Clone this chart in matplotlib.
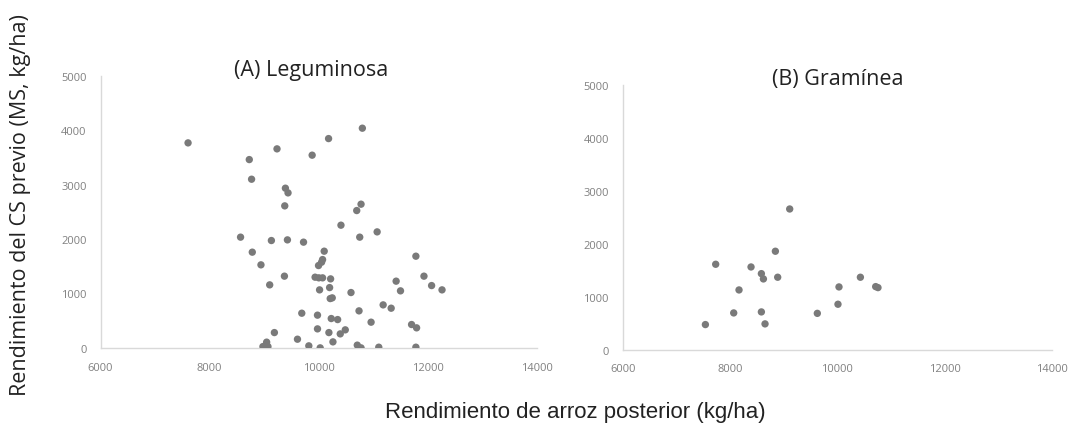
import matplotlib
matplotlib.use("Agg")
import matplotlib.pyplot as plt

plt.rcParams["font.family"] = ["Open Sans", "DejaVu Sans"]

# panel A: leguminosa (rice yield, cover crop yield)
leg_x = [7603, 8725, 8767, 9233, 9387, 9435, 9375, 10797, 10178, 9877,
         10773, 10694, 8565, 9130, 9424, 9719, 8780, 8939, 9369, 9099,
         9687, 9185, 9608, 8975, 9043, 9067, 10405, 11068, 10749, 10098,
         10068, 10050, 9994, 11778, 9931, 9999, 10068, 10215, 11416, 11926,
         12066, 12257, 11496, 10013, 10197, 10589, 10208, 10245, 10736, 11178,
         11325, 9975, 10227, 10344, 10957, 11699, 11791, 9975, 10184, 10484,
         10392, 10258, 9816, 10024, 10704, 10773, 11098, 11778]
leg_y = [3768, 3461, 3100, 3658, 2935, 2849, 2610, 4038, 3847, 3542,
         2641, 2524, 2035, 1973, 1985, 1943, 1759, 1526, 1318, 1158,
         637, 281, 159, 24, 105, 24, 2255, 2132, 2035, 1777,
         1623, 1575, 1513, 1685, 1299, 1287, 1287, 1268, 1226, 1318,
         1145, 1066, 1048, 1066, 1108, 1017, 906, 919, 680, 790,
         729, 601, 539, 520, 472, 429, 368, 349, 281, 331,
         257, 110, 37, 0, 50, 0, 12, 12]

# panel B: graminea
gra_x = [9113, 8846, 7733, 8392, 8585, 8623, 8889, 8168, 8069, 8585,
         8653, 7541, 9628, 10013, 10032, 10431, 10716, 10759]
gra_y = [2655, 1857, 1611, 1560, 1434, 1334, 1366, 1126, 692, 711,
         485, 472, 684, 856, 1183, 1366, 1189, 1170]

x_ticks = [6000, 8000, 10000, 12000, 14000]
y_ticks = [0, 1000, 2000, 3000, 4000, 5000]

fig = plt.figure(figsize=(10.7, 4.27), dpi=100)
axA = fig.add_axes([0.094, 0.183, 0.408, 0.637])
axB = fig.add_axes([0.582, 0.179, 0.401, 0.620])

for ax, xs, ys in [(axA, leg_x, leg_y), (axB, gra_x, gra_y)]:
    ax.scatter(xs, ys, s=28, color="#7a7a7a", edgecolors="none", zorder=3)
    ax.set_xlim(6000, 14000)
    ax.set_ylim(0, 5000)
    ax.set_xticks(x_ticks)
    ax.set_yticks(y_ticks)
    ax.tick_params(length=0, labelsize=8, labelcolor="#808080", pad=10)
    for side in ["top", "right"]:
        ax.spines[side].set_visible(False)
    for side in ["left", "bottom"]:
        ax.spines[side].set_color("#d9d9d9")
        ax.spines[side].set_linewidth(1.0)

# panel titles
fig.text(0.291, 0.836, "(A) Leguminosa", ha="center", va="center",
         fontsize=15.5, color="#222222")
fig.text(0.783, 0.813, "(B) Gramínea", ha="center", va="center",
         fontsize=15.5, color="#222222")

fig.text(0.019, 0.52, "Rendimiento del CS previo (MS, kg/ha)", rotation=90,
         ha="center", va="center", fontsize=15.5, color="#222222")
fig.text(0.538, 0.033, "Rendimiento de arroz posterior (kg/ha)",
         ha="center", va="center", fontsize=16, color="#222222",
         family="Liberation Sans")

plt.savefig("out.png", dpi=100)
